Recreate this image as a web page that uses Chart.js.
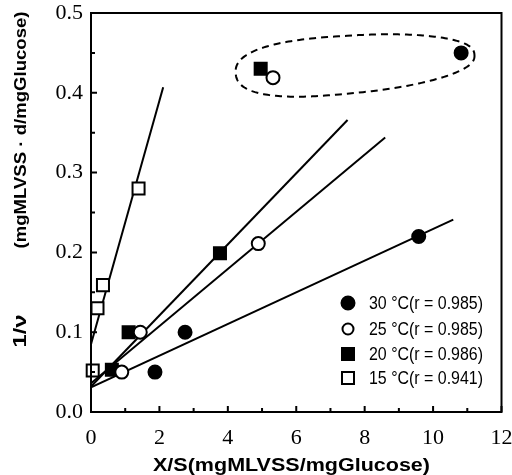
<!DOCTYPE html>
<html>
<head>
<meta charset="utf-8">
<script src="https://cdn.jsdelivr.net/npm/chart.js@4/dist/chart.umd.min.js"></script>
<style>
html,body{margin:0;padding:0;background:#fff;}
#wrap{width:512px;height:475px;position:relative;}
</style>
</head>
<body>
<div id="wrap"><canvas id="c" width="512" height="475"></canvas></div>
<script>
// ---------- data ----------
const seriesLabels = ['30 \u00B0C(r = 0.985)', '25 \u00B0C(r = 0.985)', '20 \u00B0C(r = 0.986)', '15 \u00B0C(r = 0.941)'];

const x30 = [1.87, 2.75, 9.58, 10.82];
const y30 = [0.050, 0.100, 0.220, 0.450];
const x25 = [0.90, 1.44, 4.89, 5.32];
const y25 = [0.050, 0.100, 0.211, 0.419];
const x20 = [0.61, 1.10, 3.77, 4.96];
const y20 = [0.053, 0.100, 0.199, 0.430];
const x15 = [0.05, 0.19, 0.35, 1.39];
const y15 = [0.052, 0.130, 0.159, 0.280];

// regression lines (end points)
const fitX30 = [0, 10.59], fitY30 = [0.031, 0.241];
const fitX25 = [0, 8.60],  fitY25 = [0.036, 0.344];
const fitX20 = [0, 7.50],  fitY20 = [0.032, 0.366];
const fitX15 = [0, 2.11],  fitY15 = [0.085, 0.407];

// axis ticks
const xTickValues = [0, 2, 4, 6, 8, 10, 12];
const yTickValues = [0, 0.1, 0.2, 0.3, 0.4, 0.5];
const xMinorValues = [1, 3, 5, 7, 9, 11];
const yMinorValues = [0.05, 0.15, 0.25, 0.35, 0.45];

const xTitle = 'X/S(mgMLVSS/mgGlucose)';
const yTitleA = '1/\u03BD';
const yTitleB = '(mgMLVSS \u00B7 d/mgGlucose)';

// dashed outline around the outlying points (data units)
const ringCenter = [7.72, 0.436];
const ringRadius = [3.5, 0.036];

// ---------- helpers ----------
const pts = (xs, ys) => xs.map((v, i) => ({x: v, y: ys[i]}));

const markerStyles = [
  {shape: 'circle', fill: true},
  {shape: 'circle', fill: false},
  {shape: 'rect', fill: true},
  {shape: 'rect', fill: false}
];

function drawMarker(ctx, shape, fill, cx, cy, size) {
  ctx.save();
  ctx.lineWidth = 2;
  ctx.strokeStyle = '#000';
  ctx.fillStyle = fill ? '#000' : '#fff';
  ctx.beginPath();
  if (shape === 'circle') {
    ctx.arc(cx, cy, size / 2, 0, Math.PI * 2);
  } else {
    ctx.rect(cx - size / 2, cy - size / 2, size, size);
  }
  ctx.fill();
  ctx.stroke();
  ctx.restore();
}

function scaledText(ctx, text, cx, cy, targetW, font) {
  ctx.save();
  ctx.font = font;
  const w = ctx.measureText(text).width;
  const s = targetW / w;
  ctx.translate(cx, cy);
  ctx.scale(s, 1);
  ctx.textAlign = 'center';
  ctx.textBaseline = 'middle';
  ctx.fillText(text, 0, 0);
  ctx.restore();
}

const decor = {
  id: 'decor',
  afterDatasetsDraw(chart) {
    const {ctx, chartArea: a, scales: {x, y}} = chart;
    ctx.save();
    ctx.strokeStyle = '#000';
    ctx.fillStyle = '#000';
    // frame
    ctx.lineWidth = 2;
    ctx.strokeRect(a.left, a.top, a.right - a.left, a.bottom - a.top);
    // inward tick marks
    ctx.lineWidth = 2;
    ctx.beginPath();
    xTickValues.forEach(v => { const p = x.getPixelForValue(v); ctx.moveTo(p, a.bottom); ctx.lineTo(p, a.bottom - 6); });
    xMinorValues.forEach(v => { const p = x.getPixelForValue(v); ctx.moveTo(p, a.bottom); ctx.lineTo(p, a.bottom - 4); });
    yTickValues.forEach(v => { const p = y.getPixelForValue(v); ctx.moveTo(a.left, p); ctx.lineTo(a.left + 6, p); });
    yMinorValues.forEach(v => { const p = y.getPixelForValue(v); ctx.moveTo(a.left, p); ctx.lineTo(a.left + 4, p); });
    ctx.stroke();

    // dashed outline (rounded, slightly egg-shaped loop)
    const cx = x.getPixelForValue(ringCenter[0]);
    const cy = y.getPixelForValue(ringCenter[1]);
    const rx = x.getPixelForValue(ringCenter[0] + ringRadius[0]) - cx;
    const ry = cy - y.getPixelForValue(ringCenter[1] + ringRadius[1]);
    const tilt = -4.5 * Math.PI / 180;
    const e = 2 / 2.4;
    ctx.save();
    ctx.lineWidth = 2;
    ctx.setLineDash([7, 5]);
    ctx.beginPath();
    for (let i = 0; i <= 240; i++) {
      const t = i / 240 * Math.PI * 2;
      const c = Math.cos(t), s = Math.sin(t);
      const u = rx * Math.sign(c) * Math.pow(Math.abs(c), e);
      const w = ry * (1 - 0.15 * c) * Math.sign(s) * Math.pow(Math.abs(s), e);
      const px = cx + u * Math.cos(tilt) - w * Math.sin(tilt);
      const py = cy + u * Math.sin(tilt) + w * Math.cos(tilt);
      if (i === 0) ctx.moveTo(px, py); else ctx.lineTo(px, py);
    }
    ctx.closePath();
    ctx.stroke();
    ctx.restore();

    // legend
    const rows = [303, 329, 354, 378];
    const sizes = [13, 11, 12, 12];
    seriesLabels.forEach((lab, i) => {
      const m = markerStyles[i];
      drawMarker(ctx, m.shape, m.fill, 348, rows[i], sizes[i]);
      ctx.save();
      ctx.font = '18px "Liberation Sans", Arial, sans-serif';
      const w = ctx.measureText(lab).width;
      ctx.translate(369, rows[i]);
      ctx.scale(114 / w, 1);
      ctx.textAlign = 'left';
      ctx.textBaseline = 'middle';
      ctx.fillText(lab, 0, 1);
      ctx.restore();
    });

    // axis titles
    scaledText(ctx, xTitle, 291.5, 466, 277, 'bold 18px "Liberation Sans", Arial, sans-serif');
    ctx.save();
    ctx.translate(21, 0);
    ctx.rotate(-Math.PI / 2);
    scaledText(ctx, yTitleB, -130, 0, 237, 'bold 17px "Liberation Sans", Arial, sans-serif');
    scaledText(ctx, yTitleA, -331, 0, 33, 'bold 19px "Liberation Sans", Arial, sans-serif');
    ctx.restore();

    ctx.restore();
  }
};

const scatterSet = (i, xs, ys) => ({
  type: 'scatter',
  label: seriesLabels[i],
  data: pts(xs, ys),
  showLine: false,
  pointStyle: markerStyles[i].shape === 'circle' ? 'circle' : 'rect',
  pointRadius: markerStyles[i].shape === 'circle' ? 6.5 : 8.5,
  pointBorderWidth: 2,
  pointBorderColor: '#000',
  pointBackgroundColor: markerStyles[i].fill ? '#000' : '#fff',
  clip: false,
  order: 0
});

const lineSet = (xs, ys) => ({
  type: 'line',
  data: pts(xs, ys),
  borderColor: '#000',
  borderWidth: 2,
  pointRadius: 0,
  fill: false,
  tension: 0,
  order: 1
});

const tickFont = {family: '"Liberation Serif", "Times New Roman", serif', size: 22};

new Chart(document.getElementById('c'), {
  type: 'scatter',
  data: {
    datasets: [
      scatterSet(0, x30, y30),
      scatterSet(1, x25, y25),
      scatterSet(2, x20, y20),
      scatterSet(3, x15, y15),
      lineSet(fitX30, fitY30),
      lineSet(fitX25, fitY25),
      lineSet(fitX20, fitY20),
      lineSet(fitX15, fitY15)
    ]
  },
  options: {
    responsive: false,
    animation: false,
    devicePixelRatio: 1,
    layout: {padding: {top: 13, right: 9, left: 0, bottom: 0}},
    plugins: {legend: {display: false}, tooltip: {enabled: false}},
    scales: {
      x: {
        type: 'linear', min: 0, max: 12,
        afterBuildTicks: s => { s.ticks = xTickValues.map(v => ({value: v})); },
        afterFit: s => { s.height = 63; s.paddingLeft = 0; s.paddingRight = 0; },
        grid: {display: false, drawTicks: false},
        border: {display: false},
        ticks: {
          color: '#000', padding: 13, maxRotation: 0, autoSkip: false,
          font: tickFont,
          callback: v => String(v)
        }
      },
      y: {
        type: 'linear', min: 0, max: 0.5,
        afterBuildTicks: s => { s.ticks = yTickValues.map(v => ({value: v})); },
        afterFit: s => { s.width = 91; s.paddingTop = 0; s.paddingBottom = 0; },
        grid: {display: false, drawTicks: false},
        border: {display: false},
        ticks: {
          color: '#000', padding: 8, autoSkip: false,
          font: tickFont,
          callback: v => Number(v).toFixed(1)
        }
      }
    }
  },
  plugins: [decor]
});
</script>
</body>
</html>
